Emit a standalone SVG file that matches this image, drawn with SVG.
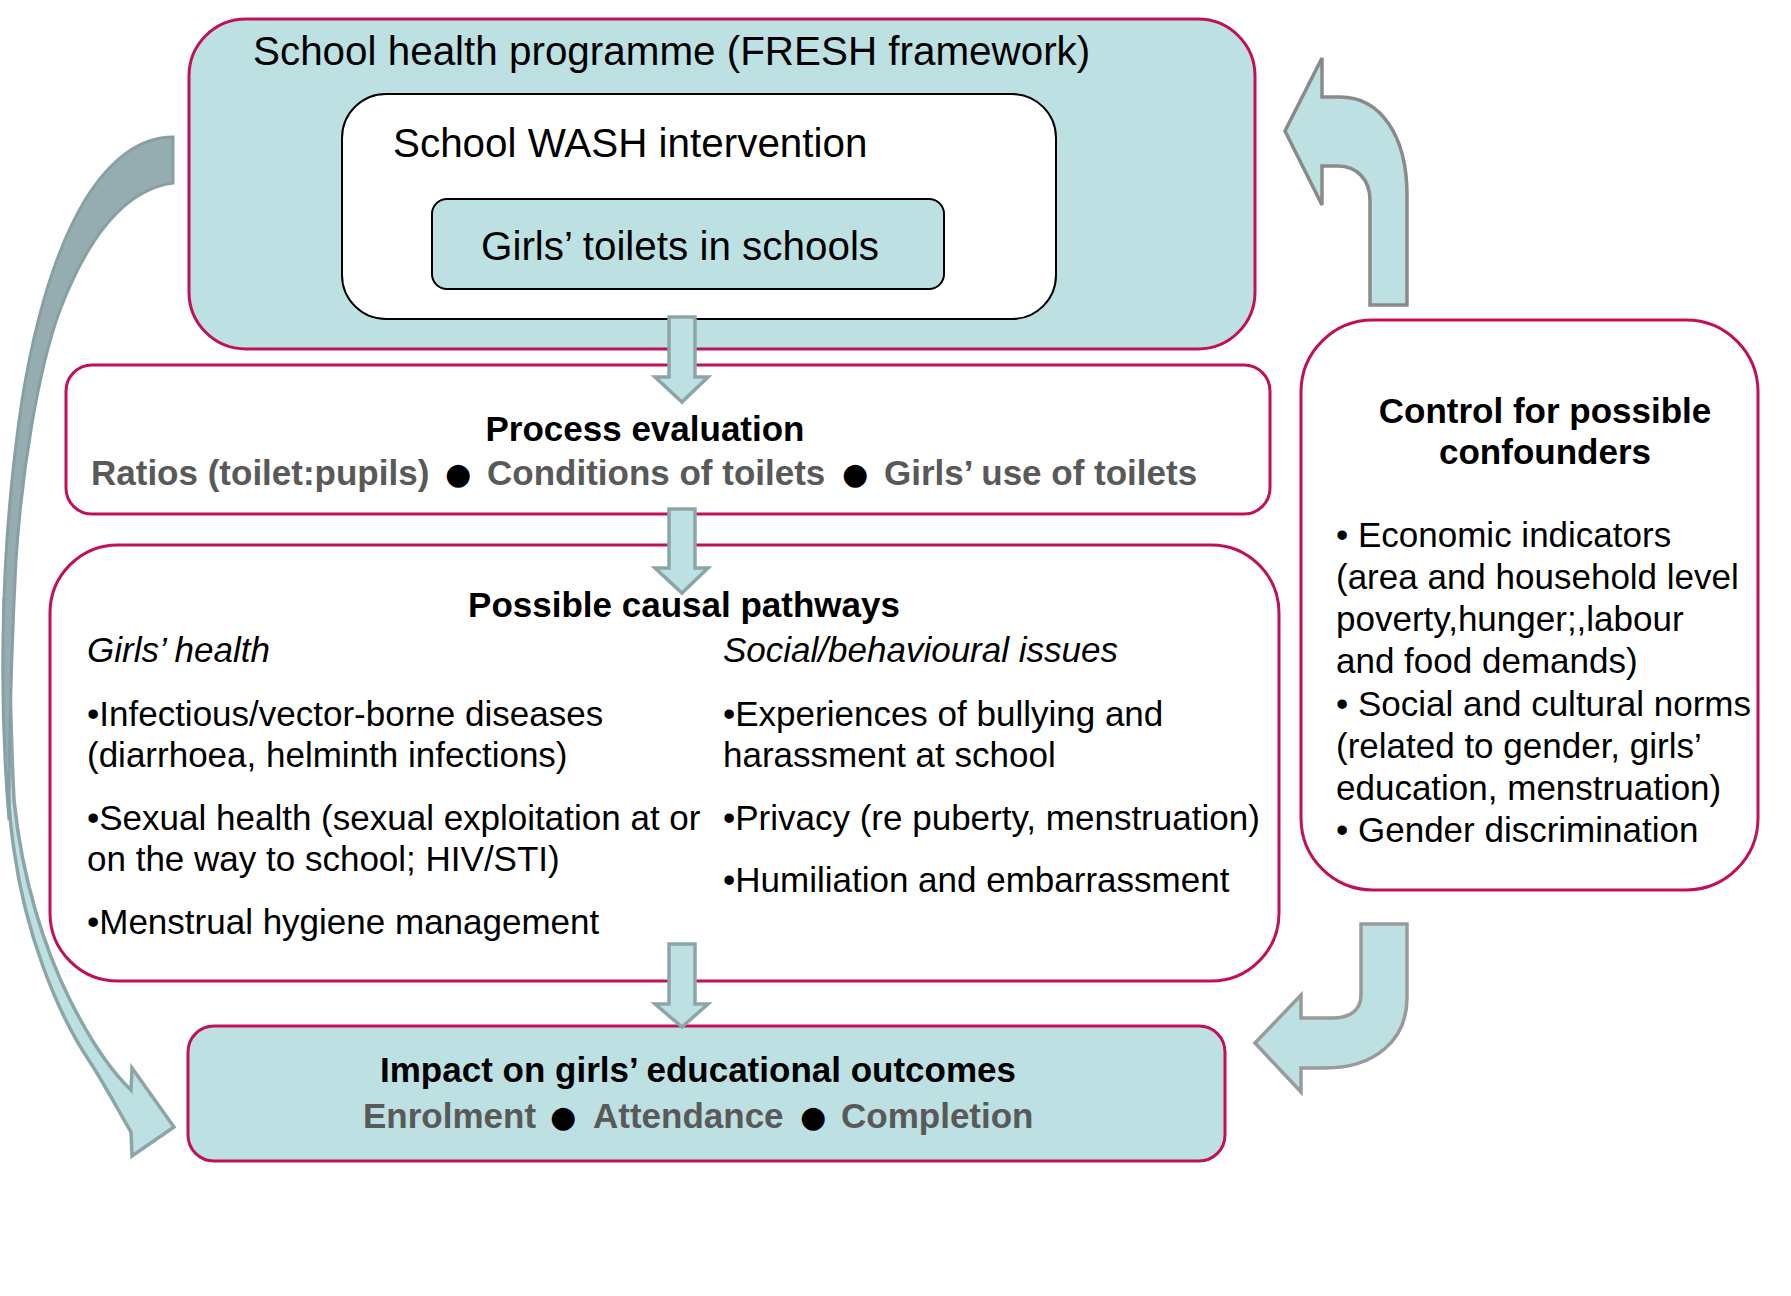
<svg xmlns="http://www.w3.org/2000/svg" width="1791" height="1296" viewBox="0 0 1791 1296">
<style>
text{font-family:"Liberation Sans",Arial,Helvetica,sans-serif;fill:#000}
.big{font-size:40.4px}
.t{font-size:35px}
.b{font-size:35px;font-weight:bold}
.g{font-size:35px;font-weight:bold;fill:#595959}
.i{font-size:35px;font-style:italic}
.dot{fill:#000;text-anchor:middle;font-family:"DejaVu Sans",sans-serif;font-size:30px;font-weight:normal}
.mid{text-anchor:middle}
.pink{stroke:#c0105a;stroke-width:3}
.blue{fill:#bde0e3}
.wh{fill:#fff}
.blk{stroke:#000;stroke-width:2}
.sarrow{fill:#bde0e3;stroke:#8ca5a8;stroke-width:3.5;stroke-linejoin:miter}
.garrow{fill:#bde0e3;stroke:#8a8a8a;stroke-width:3.5;stroke-linejoin:miter}
</style>

<g id="node-fresh">
<rect x="189" y="19" width="1066" height="330" rx="57" ry="57" class="blue pink"/>
<text x="253" y="65" class="big">School health programme (FRESH framework)</text>
</g>
<g id="node-wash">
<rect x="342" y="94" width="714" height="225" rx="44" ry="44" class="wh blk"/>
<text x="393" y="157" class="big">School WASH intervention</text>
</g>
<g id="node-toilets">
<rect x="432" y="199" width="512" height="90" rx="15" ry="15" class="blue blk"/>
<text x="481" y="260" class="big">Girls’ toilets in schools</text>
</g>

<g id="node-process">
<rect x="66" y="365" width="1204" height="149" rx="26" ry="26" class="wh pink"/>
<text x="645" y="441" class="b mid">Process evaluation</text>
<text y="485" class="g"><tspan x="91">Ratios (toilet:pupils)</tspan><tspan x="458" y="484" class="dot">●</tspan><tspan x="487" y="485">Conditions of toilets</tspan><tspan x="855" y="484" class="dot">●</tspan><tspan x="884" y="485">Girls’ use of toilets</tspan></text>
</g>

<g id="node-pathways">
<rect x="50" y="545" width="1229" height="436" rx="68" ry="68" class="wh pink"/>
<text x="684" y="617" class="b mid">Possible causal pathways</text>
<text x="87" y="662" class="i">Girls’ health</text>
<text x="87" y="726" class="t">•Infectious/vector-borne diseases</text>
<text x="87" y="767" class="t">(diarrhoea, helminth infections)</text>
<text x="87" y="830" class="t">•Sexual health (sexual exploitation at or</text>
<text x="87" y="871" class="t">on the way to school; HIV/STI)</text>
<text x="87" y="934" class="t">•Menstrual hygiene management</text>
<text x="723" y="662" class="i">Social/behavioural issues</text>
<text x="723" y="726" class="t">•Experiences of bullying and</text>
<text x="723" y="767" class="t">harassment at school</text>
<text x="723" y="830" class="t">•Privacy (re puberty, menstruation)</text>
<text x="723" y="892" class="t">•Humiliation and embarrassment</text>
</g>

<g id="node-impact">
<rect x="188" y="1026" width="1037" height="135" rx="26" ry="26" class="blue pink"/>
<text x="698" y="1082" class="b mid">Impact on girls’ educational outcomes</text>
<text y="1128" class="g"><tspan x="363">Enrolment</tspan><tspan x="563" y="1127" class="dot">●</tspan><tspan x="593" y="1128">Attendance</tspan><tspan x="813" y="1127" class="dot">●</tspan><tspan x="841" y="1128">Completion</tspan></text>
</g>

<g id="node-confounders">
<rect x="1301" y="320" width="457" height="570" rx="72" ry="72" class="wh pink"/>
<text x="1545" y="423" class="b mid">Control for possible</text>
<text x="1545" y="464" class="b mid">confounders</text>
<text x="1336" y="547" class="t">• Economic indicators</text>
<text x="1336" y="589" class="t">(area and household level</text>
<text x="1336" y="631" class="t">poverty,hunger;,labour</text>
<text x="1336" y="673" class="t">and food demands)</text>
<text x="1336" y="716" class="t">• Social and cultural norms</text>
<text x="1336" y="758" class="t">(related to gender, girls’</text>
<text x="1336" y="800" class="t">education, menstruation)</text>
<text x="1336" y="842" class="t">• Gender discrimination</text>
</g>

<g id="connectors">
<path class="sarrow" d="M669,317 L695,317 L695,377 L708,377 L682,402 L655,377 L669,377 Z"/>
<path class="sarrow" d="M669,509 L695,509 L695,568 L708,568 L682,593 L655,568 L669,568 Z"/>
<path class="sarrow" d="M669,944 L695,944 L695,1004 L708,1004 L682,1027 L655,1004 L669,1004 Z"/>
<path class="garrow" d="M1370,305 L1370,200 C1370,180 1357,166 1338,166 L1322,166 L1322,205 L1285,131 L1322,58 L1322,97 L1340,97 C1380,97 1407,135 1407,195 L1407,305 Z"/>
<path class="garrow" style="stroke:#9a9a9a" d="M1361,924 L1361,995 C1361,1010 1350,1018 1333,1018 L1301,1018 L1301,995 L1255,1043 L1301,1092 L1301,1068 L1325,1068 C1375,1068 1407,1040 1407,998 L1407,924 Z"/>
<path class="sarrow" d="M4,600 C3,700 5,790 14,850 C25,930 55,1010 90,1062 C105,1085 118,1110 131,1132 L132,1156 L174,1127 L132,1068 L131,1090 C110,1070 90,1040 70,1000 C45,950 22,880 14,800 C10,720 9,660 9,600 Z"/>
<path fill="#95adb0" stroke="#87a0a3" stroke-width="3" d="M173,137 C140,137 110,160 85,200 C55,250 35,320 22,400 C10,480 4,560 3,640 C2,700 4,760 9,820 C9,740 11,660 16,560 C22,470 38,370 60,310 C85,245 120,190 173,183 Z"/>
</g>
</svg>
